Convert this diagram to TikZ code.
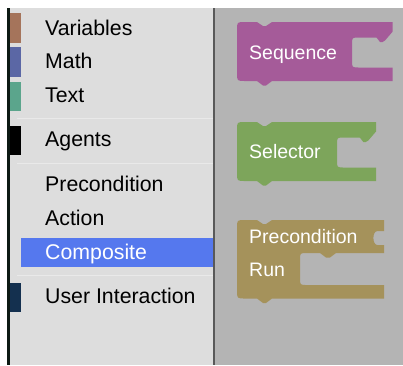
\documentclass[tikz,border=0pt]{standalone}
\usepackage{fontspec}
\newfontfamily\uifont{Liberation Sans}
\definecolor{panelc}{HTML}{DDDDDD}
\definecolor{wsc}{HTML}{B4B4B4}
\definecolor{edgec}{HTML}{0D1A14}
\definecolor{divc}{HTML}{595959}
\definecolor{sepc}{HTML}{E9E9E9}
\definecolor{varc}{HTML}{A5745B}
\definecolor{mathc}{HTML}{5B67A5}
\definecolor{textc}{HTML}{5BA58C}
\definecolor{agentc}{HTML}{000000}
\definecolor{uic}{HTML}{14304F}
\definecolor{selc}{HTML}{5578EE}
\definecolor{seqc}{HTML}{A55B99}
\definecolor{selectorc}{HTML}{7DA55B}
\definecolor{precc}{HTML}{A5925B}
\tikzset{
  item/.style={anchor=base west, inner sep=0pt, font=\uifont\fontsize{21.3}{24}\selectfont, text=black},
  blocktext/.style={anchor=base west, inner sep=0pt, font=\uifont\fontsize{19.5}{22}\selectfont, text=white},
  seprule/.style={draw=sepc, line width=1pt},
}
\begin{document}
\begin{tikzpicture}[x=1pt,y=-1pt]
\useasboundingbox (0,0) rectangle (403,365);
\fill[white] (0,0) rectangle (403,365);
% panel and workspace
\fill[panelc] (10,8) rectangle (212.5,365);
\fill[edgec] (7,8) rectangle (10,365);
\fill[wsc] (214.5,8) rectangle (403,365);
\fill[divc] (212.5,8) rectangle (214.5,365);
% category colour strips
\fill[varc] (10,13.3) rectangle (21,43.3);
\fill[mathc] (10,46.7) rectangle (21,77.3);
\fill[textc] (10,81.7) rectangle (21,110.7);
\fill[agentc] (10,126) rectangle (21,155);
\fill[uic] (10,282.7) rectangle (21,311.7);
% separators
\draw[seprule] (17,118.5) -- (212.5,118.5);
\draw[seprule] (17,163.5) -- (212.5,163.5);
\draw[seprule] (17,275) -- (212.5,275);
% selection highlight
\fill[selc] (21,238.3) rectangle (212.5,267.3);
% category labels
\node[item] (variables) at (45,35) {Variables};
\node[item] (math) at (45,68.5) {Math};
\node[item] (text) at (45,102) {Text};
\node[item] (agents) at (45,146.5) {Agents};
\node[item] (precondition) at (45,191.5) {Precondition};
\node[item] (action) at (45,225) {Action};
\node[item, text=white] (composite) at (45,259) {Composite};
\node[item] (userinteraction) at (45,303.5) {User Interaction};
% Sequence block
\fill[seqc] (237,30) .. controls (237,22) .. (245,22) -- (257,22) -- (263,26) -- (266,26) -- (272,22)
  -- (392.7,22) -- (392.7,31.5) -- (385,40.5) -- (382.5,42) -- (380,42) -- (376.5,37.5) -- (359,37.5)
  .. controls (352,37.5) .. (352,44.5) -- (352,60.5) .. controls (352,67.5) .. (359,67.5)
  -- (392.7,67.5) -- (392.7,81) -- (272,81) -- (266,85.5) -- (263,85.5) -- (257,81) -- (245,81)
  .. controls (237,81) .. (237,73) -- cycle;
\node[blocktext] (sequence) at (249,59) {Sequence};
% Selector block
\fill[selectorc] (237,130) .. controls (237,122) .. (245,122) -- (257,122) -- (263,126) -- (266,126) -- (272,122)
  -- (376,122) -- (376,131.5) -- (368.3,140.5) -- (365.8,142) -- (363.3,142) -- (359.8,137.5) -- (344,137.5)
  .. controls (337,137.5) .. (337,144.5) -- (337,160.5) .. controls (337,167.5) .. (344,167.5)
  -- (376,167.5) -- (376,181) -- (272,181) -- (266,185.5) -- (263,185.5) -- (257,181) -- (245,181)
  .. controls (237,181) .. (237,173) -- cycle;
\node[blocktext] (selector) at (249,158) {Selector};
% Precondition / Run block
\fill[precc] (237,228) .. controls (237,220) .. (245,220) -- (257,220) -- (263,224) -- (266,224) -- (272,220)
  -- (384,220) -- (384,231) -- (377.5,231) .. controls (372,231) and (372,245) .. (377.5,245) -- (384,245)
  -- (384,253) -- (336,253) -- (330,257.5) -- (326,257.5) -- (320,253) -- (307,253)
  .. controls (300,253) .. (300,260) -- (300,278) .. controls (300,285) .. (307,285)
  -- (384,285) -- (384,298.5) -- (272,298.5) -- (266,303) -- (263,303) -- (257,298.5) -- (245,298.5)
  .. controls (237,298.5) .. (237,290.5) -- cycle;
\node[blocktext] (precblock) at (249,243) {Precondition};
\node[blocktext] (run) at (249,276) {Run};
\end{tikzpicture}
\end{document}
